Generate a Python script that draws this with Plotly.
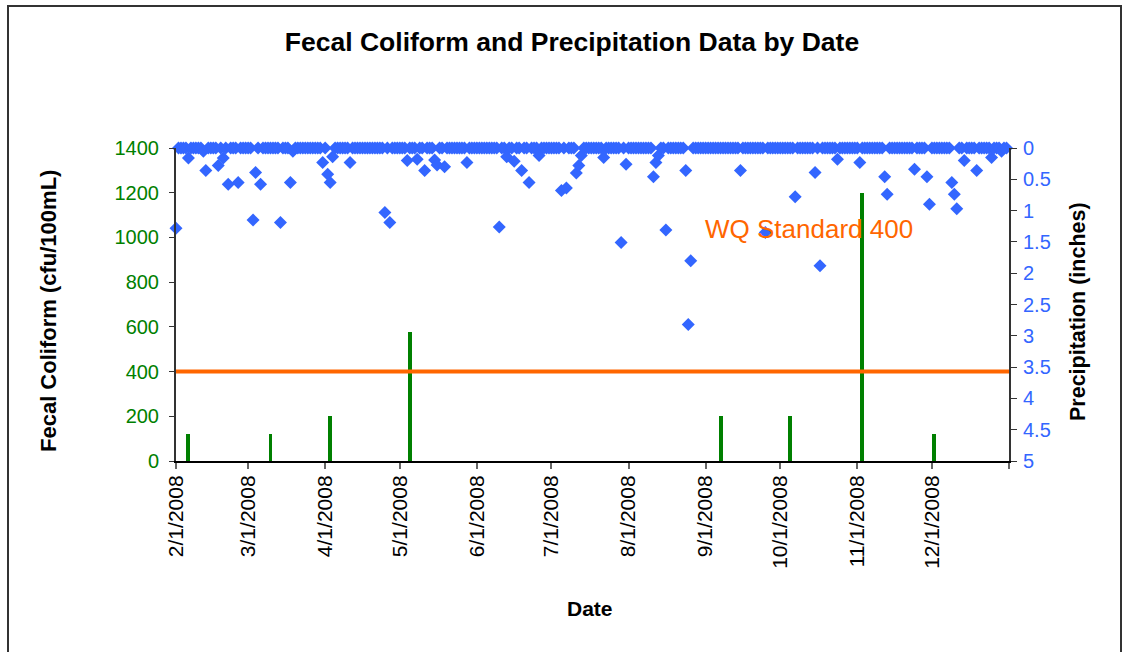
import plotly.graph_objects as go
import pandas as pd

# ---------------- data ----------------
# Fecal coliform samples (cfu/100mL)
fc_dates = ["2008-02-06", "2008-03-10", "2008-04-03", "2008-05-05",
            "2008-09-07", "2008-10-05", "2008-11-03", "2008-12-02"]
fc_values = [120, 120, 200, 575, 200, 200, 1200, 120]

# Daily precipitation (inches): observation period, wet days listed, other days 0
precip_start = "2008-02-01"
precip_end = "2008-12-31"
wet_dates = ["2008-02-01", "2008-02-06", "2008-02-12", "2008-02-13", "2008-02-18",
             "2008-02-20", "2008-02-22", "2008-02-26", "2008-03-03", "2008-03-04",
             "2008-03-06", "2008-03-14", "2008-03-18", "2008-03-19", "2008-03-31",
             "2008-04-02", "2008-04-03", "2008-04-04", "2008-04-11", "2008-04-25",
             "2008-04-27", "2008-05-04", "2008-05-08", "2008-05-11", "2008-05-15",
             "2008-05-16", "2008-05-19", "2008-05-28", "2008-06-10", "2008-06-13",
             "2008-06-16", "2008-06-19", "2008-06-22", "2008-06-26", "2008-07-05",
             "2008-07-07", "2008-07-11", "2008-07-12", "2008-07-13", "2008-07-22",
             "2008-07-29", "2008-07-31", "2008-08-11", "2008-08-12", "2008-08-13",
             "2008-08-16", "2008-08-24", "2008-08-25", "2008-08-26", "2008-09-15",
             "2008-09-25", "2008-10-07", "2008-10-15", "2008-10-17", "2008-10-24",
             "2008-11-02", "2008-11-12", "2008-11-13", "2008-11-24", "2008-11-29",
             "2008-11-30", "2008-12-09", "2008-12-10", "2008-12-11", "2008-12-14",
             "2008-12-19", "2008-12-25", "2008-12-29"]
wet_values = [1.28, 0.16, 0.05, 0.36, 0.28,
              0.16, 0.58, 0.55, 1.15, 0.39,
              0.58, 1.19, 0.55, 0.05, 0.23,
              0.42, 0.55, 0.14, 0.23, 1.03,
              1.19, 0.20, 0.18, 0.36, 0.19,
              0.27, 0.30, 0.23, 1.26, 0.14,
              0.21, 0.36, 0.55, 0.12, 0.68,
              0.64, 0.40, 0.28, 0.12, 0.15,
              1.51, 0.26, 0.46, 0.23, 0.12,
              1.31, 0.36, 2.82, 1.80, 0.36,
              1.35, 0.78, 0.39, 1.88, 0.18,
              0.23, 0.46, 0.74, 0.34, 0.46,
              0.90, 0.55, 0.74, 0.97, 0.20,
              0.36, 0.15, 0.05]

wq_standard = 400
axis_start = "2008-02-01"
axis_end = "2009-01-01"
tick_dates = ["2008-02-01", "2008-03-01", "2008-04-01", "2008-05-01", "2008-06-01",
              "2008-07-01", "2008-08-01", "2008-09-01", "2008-10-01", "2008-11-01",
              "2008-12-01", "2009-01-01"]
tick_labels = ["2/1/2008", "3/1/2008", "4/1/2008", "5/1/2008", "6/1/2008",
               "7/1/2008", "8/1/2008", "9/1/2008", "10/1/2008", "11/1/2008",
               "12/1/2008", ""]

# ---------------- build ----------------
days = pd.date_range(precip_start, precip_end, freq="D")
precip = pd.Series(0.0, index=days)
precip.loc[pd.to_datetime(wet_dates)] = wet_values

FONT = "Arial, Liberation Sans, sans-serif"
GREEN = "#008000"
BLUE = "#3366FF"
ORANGE = "#FF6600"

W, H = 1128, 652
PL, PR, PT, PB = 176, 1009, 148, 461          # plot area in pixels
L, R, T, B = PL, W - PR, PT, H - PB
PW, PH = PR - PL, PB - PT


def px(x):
    return (x - PL) / PW


def py(y):
    return (PB - y) / PH


fig = go.Figure()
fig.add_trace(go.Bar(x=pd.to_datetime(fc_dates), y=fc_values, marker_color=GREEN,
                     marker_line_width=0, width=1.6 * 86400000, yaxis="y",
                     showlegend=False))
fig.add_trace(go.Scatter(x=[axis_start, axis_end], y=[wq_standard, wq_standard],
                         mode="lines", line=dict(color=ORANGE, width=4),
                         yaxis="y", showlegend=False))
fig.add_trace(go.Scatter(x=precip.index, y=precip.values, mode="markers",
                         marker=dict(symbol="diamond", size=10, color=BLUE),
                         yaxis="y2", showlegend=False, cliponaxis=False))

fig.update_layout(
    width=W, height=H, autosize=False,
    margin=dict(l=L, r=R, t=T, b=B),
    paper_bgcolor="white", plot_bgcolor="white",
    font=dict(family=FONT, color="black"),
    title=dict(text="<b>Fecal Coliform and Precipitation Data by Date</b>",
               x=572 / W, xref="container", xanchor="center",
               y=1 - 42 / H, yref="container", yanchor="middle",
               font=dict(size=26.5, family=FONT, color="black")),
    bargap=0,
    xaxis=dict(type="date", range=[axis_start, axis_end],
               tickmode="array", tickvals=tick_dates, ticktext=tick_labels,
               tickangle=-90, tickfont=dict(size=21, family=FONT, color="black"),
               ticks="outside", ticklen=6, tickcolor="#666", tickwidth=2,
               ticklabelstandoff=-2,
               showline=True, linecolor="black", linewidth=2,
               showgrid=False, zeroline=False),
    yaxis=dict(range=[0, 1400], tickmode="linear", tick0=0, dtick=200,
               tickfont=dict(size=20, family=FONT, color=GREEN),
               ticks="outside", ticklen=5, tickcolor="#333", tickwidth=1,
               ticklabelstandoff=6,
               showline=True, linecolor="#333", linewidth=2,
               showgrid=False, zeroline=False),
    yaxis2=dict(range=[5, 0], overlaying="y", side="right",
                tickmode="linear", tick0=0, dtick=0.5,
                tickfont=dict(size=20, family=FONT, color=BLUE),
                ticks="outside", ticklen=6, tickcolor="#333", tickwidth=1,
                ticklabelstandoff=2,
                showline=True, linecolor="#333", linewidth=2,
                showgrid=False, zeroline=False),
    shapes=[dict(type="rect", xref="paper", yref="paper",
                 x0=px(8), x1=px(1121), y0=py(670), y1=py(6),
                 line=dict(color="#333", width=2), fillcolor="rgba(0,0,0,0)",
                 layer="below")],
    annotations=[
        dict(text="<b>Fecal Coliform (cfu/100mL)</b>", textangle=-90,
             xref="paper", yref="paper", x=px(48), y=py(311),
             xanchor="center", yanchor="middle", showarrow=False,
             font=dict(size=22, family=FONT, color="black")),
        dict(text="<b>Precipitation (inches)</b>", textangle=-90,
             xref="paper", yref="paper", x=px(1078), y=py(312),
             xanchor="center", yanchor="middle", showarrow=False,
             font=dict(size=21.5, family=FONT, color="black")),
        dict(text="<b>Date</b>", xref="paper", yref="paper",
             x=px(590), y=py(608), xanchor="center", yanchor="middle",
             showarrow=False, font=dict(size=21, family=FONT, color="black")),
        dict(text="WQ Standard 400", xref="x", yref="y",
             x="2008-08-31", y=1037, xanchor="left", yanchor="middle",
             showarrow=False, font=dict(size=26, family=FONT, color=ORANGE)),
    ],
)

# remove the default page margin so the figure fills the 1128x652 window exactly
fig.write_html("out.html",
               config={"displayModeBar": False},
               post_script="document.body.style.margin='0';"
                           "document.body.style.overflow='hidden';")
